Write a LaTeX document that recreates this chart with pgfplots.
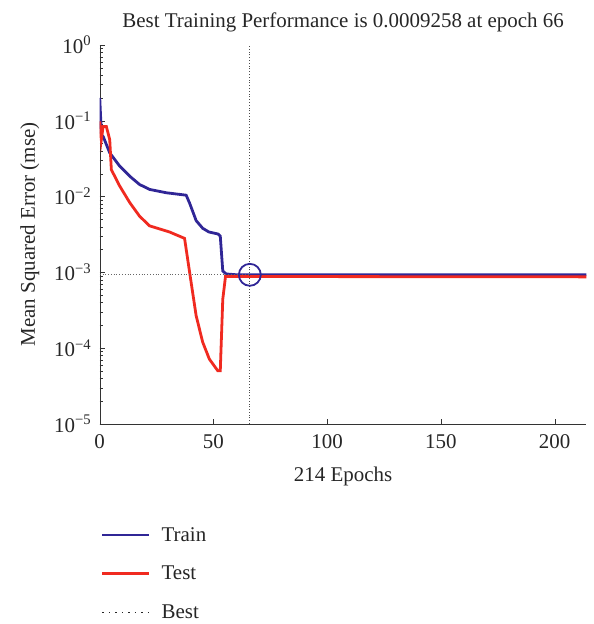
\documentclass[border=0pt]{standalone}
\usepackage{fontspec}
\setmainfont{Liberation Serif}
\usepackage{pgfplots}
\pgfplotsset{compat=1.18}
\definecolor{trainblue}{RGB}{48,38,150}
\definecolor{testred}{RGB}{240,42,32}
\begin{document}
\begin{tikzpicture}
\begin{axis}[
  scale only axis,
  width=488pt, height=380pt,
  ymode=log,
  xmin=0, xmax=214,
  ymin=1e-5, ymax=1,
  axis lines=left,
  axis line style={-, thin, black!80},
  tick align=inside,
  tick style={black!80},
  major tick length=5pt, minor tick length=3pt,
  xtick={0,50,100,150,200},
  ytick={1e-5,1e-4,1e-3,1e-2,1e-1,1},
  yticklabels={10\textsuperscript{−5},10\textsuperscript{−4},10\textsuperscript{−3},10\textsuperscript{−2},10\textsuperscript{−1},10\textsuperscript{0}},
  minor ytick={2e-5,3e-5,4e-5,5e-5,6e-5,7e-5,8e-5,9e-5,
               2e-4,3e-4,4e-4,5e-4,6e-4,7e-4,8e-4,9e-4,
               2e-3,3e-3,4e-3,5e-3,6e-3,7e-3,8e-3,9e-3,
               2e-2,3e-2,4e-2,5e-2,6e-2,7e-2,8e-2,9e-2,
               2e-1,3e-1,4e-1,5e-1,6e-1,7e-1,8e-1,9e-1},
  /pgf/number format/assume math mode=true,
  tick label style={font=\fontsize{21}{24}\selectfont, text=black!85},
  xticklabel style={yshift=-7pt},
  yticklabel style={xshift=-5pt},
  label style={font=\fontsize{21}{24}\selectfont, text=black!85},
  title style={font=\fontsize{21}{24}\selectfont, text=black!85, yshift=3pt},
  xlabel={214 Epochs},
  ylabel={Mean Squared Error (mse)},
  title={Best Training Performance is 0.0009258 at epoch 66},
  xlabel style={yshift=-12pt},
  ylabel style={yshift=8pt},
  legend style={at={(rel axis cs:-0.004,-0.262)}, anchor=north west, draw=none,
    font=\fontsize{21}{24}\selectfont, text=black!85, row sep=19.5pt,
    legend cell align=left},
  legend image code/.code={\draw[#1] (0pt,0pt) -- (47pt,0pt); \path (56pt,0pt);},
]
\coordinate (bl) at (rel axis cs:0,0);
\addplot[trainblue, line width=2.8pt] coordinates {
 (0,0.20) (0.75,0.065) (1.5,0.062) (4.4,0.0376) (8.8,0.0251) (13.2,0.0185)
 (17.5,0.0144) (21.9,0.0124) (29.2,0.0112) (38,0.0104) (39.5,0.0082)
 (42.4,0.0048) (45.3,0.0038) (48,0.0034) (52,0.0032) (53,0.0030)
 (54.1,0.00104) (55.6,0.00095) (60,0.000928) (66,0.0009258) (214,0.0009258)
};
\addlegendentry{Train}
\addplot[testred, line width=2.8pt] coordinates {
 (0,0.098) (0.7,0.056) (1.5,0.084) (2.9,0.084) (4.4,0.056) (5.1,0.0226)
 (8.8,0.0137) (13.2,0.0083) (17.5,0.0055) (21.9,0.0041) (30.7,0.0034)
 (37.3,0.0028) (40.2,0.00073) (42.4,0.000266) (45.3,0.000119)
 (48.2,0.0000716) (51.9,0.0000502) (53,0.0000502) (54.1,0.00044)
 (55.3,0.00088) (214,0.00087)
};
\addlegendentry{Test}
\addplot[black!70, dotted, line width=0.8pt,
  legend image code/.code={\draw[black!85, line width=1.3pt, dash pattern=on 1.3pt off 5.2pt] (0pt,0pt) -- (47pt,0pt); \path (56pt,0pt);}]
  coordinates {(66,1e-5) (66,1)};
\addlegendentry{Best}
\addplot[black!60, dotted, line width=0.8pt, forget plot] coordinates {(0,0.0009258) (66,0.0009258)};
\addplot[trainblue, only marks, mark=o, mark size=11pt, mark options={line width=1.8pt}, forget plot]
 coordinates {(66,0.0009258)};
\end{axis}
\path ([shift={(-100pt,-199pt)}]bl) rectangle ([shift={(495pt,425pt)}]bl);
\end{tikzpicture}
\end{document}
